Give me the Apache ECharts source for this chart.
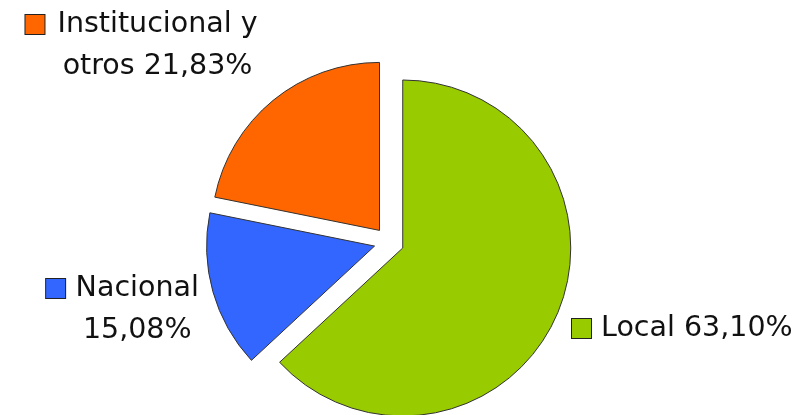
<!DOCTYPE html>
<html><head><meta charset="utf-8">
<script src="https://cdn.jsdelivr.net/npm/echarts@6/dist/echarts.min.js"></script>
<style>html,body{margin:0;padding:0;background:#fff}#c{width:810px;height:415px}</style>
</head><body><div id="c"></div>
<script>
const categories = ['Local', 'Nacional', 'Institucional y otros'];
const values = [63.10, 15.08, 21.83];
const colors = ['#99CC00', '#3366FF', '#FF6600'];
// how each label is broken into lines (%v = formatted value)
const labelLines = [
  ['Local %v'],
  ['Nacional', '%v'],
  ['Institucional y', 'otros %v']
];
function fmt(v) { return v.toFixed(2).replace('.', ',') + '%'; }

const FONT = 'DejaVu Sans';
const FS = 28.5;
const LH = 42;
const SQ = 19;
// label anchor: x/y of the text block, alignment, gap between marker and text
const labelPos = [
  { x: 572, y: 328.5, align: 'left', gap: 10 },
  { x: 122.5, y: 309.5, align: 'center', gap: 10.5 },
  { x: 141.5, y: 45.5, align: 'center', gap: 13 }
];

function richFor(i) {
  const g = labelPos[i].gap;
  return {
    t: { fontFamily: FONT, fontSize: FS, fill: '#111', lineHeight: LH },
    gap: { width: g, lineHeight: LH },
    sp: { width: SQ + g, lineHeight: LH },
    sq: { width: SQ, height: SQ, borderWidth: 1, borderColor: '#222', backgroundColor: colors[i] }
  };
}
function labelText(i) {
  const lines = labelLines[i].map(s => s.replace('%v', fmt(values[i])));
  let out = '{sq|}{gap|}{t|' + lines[0] + '}';
  for (let k = 1; k < lines.length; k++) out += '\n{sp|}{t|' + lines[k] + '}';
  return out;
}

const chart = echarts.init(document.getElementById('c'), null, { renderer: 'canvas' });
chart.setOption({
  backgroundColor: '#fff',
  animation: false,
  graphic: categories.map((n, i) => ({
    type: 'text',
    x: labelPos[i].x,
    y: labelPos[i].y,
    z: 10,
    style: {
      text: labelText(i),
      rich: richFor(i),
      align: labelPos[i].align,
      verticalAlign: 'middle',
      textAlign: labelPos[i].align,
      textVerticalAlign: 'middle'
    }
  })),
  series: [{
    type: 'pie',
    center: [389, 242],
    radius: 168,
    startAngle: 90,
    clockwise: true,
    selectedMode: 'multiple',
    selectedOffset: 15,
    itemStyle: { borderColor: '#333', borderWidth: 1 },
    select: { itemStyle: { borderColor: '#333', borderWidth: 1 } },
    emphasis: { disabled: true },
    label: { show: false },
    labelLine: { show: false },
    data: categories.map((n, i) => ({
      name: n, value: values[i], selected: true,
      itemStyle: { color: colors[i] }
    }))
  }]
});
</script>
</body></html>
